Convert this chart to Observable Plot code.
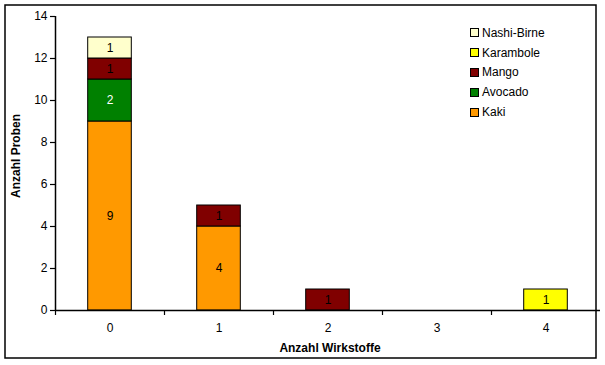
<!DOCTYPE html>
<html><head><meta charset="utf-8">
<script src="https://cdn.jsdelivr.net/npm/d3@7"></script>
<script src="https://cdn.jsdelivr.net/npm/@observablehq/plot@0.6"></script>
<style>
html,body{margin:0;padding:0;background:#fff}
#wrap{position:relative;width:605px;height:365px;font-family:"Liberation Sans",Arial,sans-serif}
#legend{position:absolute;left:470px;top:23px;font-size:12px;color:#000}
#legend .row{display:flex;align-items:center;height:19.8px}
#legend .sw{width:7px;height:7px;border:1px solid #000;margin-right:3px}
</style>
</head><body>
<div id="wrap"><div id="legend"></div></div>
<script>
const categories = [0, 1, 2, 3, 4];
const series = ["Kaki", "Avocado", "Mango", "Karambole", "Nashi-Birne"];
const kaki = [9, 4, 0, 0, 0];
const avocado = [2, 0, 0, 0, 0];
const mango = [1, 1, 1, 0, 0];
const karambole = [0, 0, 0, 0, 1];
const nashiBirne = [1, 0, 0, 0, 0];
const colors = ["#FF9900", "#008000", "#800000", "#FFFF00", "#FFFFCC"];
const yTicks = [0, 2, 4, 6, 8, 10, 12, 14];
const xLabel = "Anzahl Wirkstoffe";
const yLabel = "Anzahl Proben";

const values = [kaki, avocado, mango, karambole, nashiBirne];
const rows = [];
categories.forEach((c, i) => {
  let base = 0;
  series.forEach((s, j) => {
    const v = values[j][i];
    if (v > 0) { rows.push({cat: c, series: s, value: v, y1: base, y2: base + v}); base += v; }
  });
});
const boundaries = categories.map(c => c - 0.5);

const chart = Plot.plot({
  width: 605, height: 365,
  marginLeft: 55, marginRight: 5, marginTop: 16, marginBottom: 55,
  style: {fontFamily: "'Liberation Sans', Arial, sans-serif", fontSize: "12px", color: "#000", background: "transparent"},
  x: {type: "linear", domain: [-0.5, 4.5]},
  y: {domain: [0, 14]},
  color: {domain: series, range: colors},
  marks: [
    Plot.rectY(rows, {x1: d => d.cat - 0.2, x2: d => d.cat + 0.2, y1: "y1", y2: "y2", fill: "series", stroke: "#000", strokeWidth: 1}),
    Plot.text(rows.filter(d => d.series !== "Avocado"), {x: "cat", y: d => (d.y1 + d.y2) / 2, text: "value", fill: "#000", fontSize: 12}),
    Plot.text(rows.filter(d => d.series === "Avocado"), {x: "cat", y: d => (d.y1 + d.y2) / 2, text: "value", fill: "#fff", fontSize: 12}),
    Plot.ruleY([0], {stroke: "#000", strokeWidth: 1.5}),
    Plot.ruleX([-0.5], {stroke: "#000", strokeWidth: 1.5}),
    Plot.axisY({ticks: yTicks, tickSize: 5, tickPadding: 3, tickFormat: d => d, label: null, fontSize: 12, strokeWidth: 1.2}),
    Plot.axisX({ticks: boundaries, tickSize: 5, tickFormat: () => "", label: null, strokeWidth: 1.2}),
    Plot.axisX({ticks: categories, tickSize: 0, tickPadding: 13, tickFormat: d => d, label: null, fontSize: 12})
  ]
});
const wrap = document.getElementById("wrap");
wrap.insertBefore(chart, wrap.firstChild);

const svg = d3.select(chart);
svg.append("rect").attr("x", 5).attr("y", 5).attr("width", 591).attr("height", 353)
  .attr("fill", "none").attr("stroke", "#000").attr("stroke-width", 1.5);
svg.append("text").attr("x", 330).attr("y", 352).attr("text-anchor", "middle")
  .attr("font-weight", "bold").attr("font-size", 12).text(xLabel);
svg.append("text").attr("transform", "translate(20,156) rotate(-90)").attr("text-anchor", "middle")
  .attr("font-weight", "bold").attr("font-size", 12).text(yLabel);

const legend = d3.select("#legend");
series.slice().reverse().forEach(s => {
  const r = legend.append("div").attr("class", "row");
  r.append("div").attr("class", "sw").style("background", colors[series.indexOf(s)]);
  r.append("span").text(s);
});
</script>
</body></html>
